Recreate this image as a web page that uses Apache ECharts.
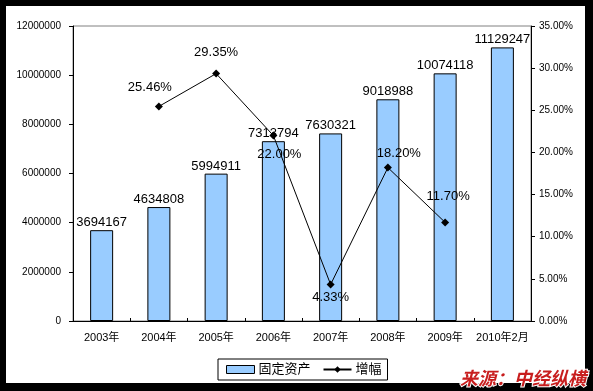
<!DOCTYPE html>
<html>
<head>
<meta charset="utf-8">
<script src="https://cdn.jsdelivr.net/npm/echarts@6/dist/echarts.min.js"></script>
<style>
  html, body { margin: 0; padding: 0; background: #000; }
  #wrap { position: relative; width: 593px; height: 391px; background: #000; }
  #paper { position: absolute; left: 6px; top: 6px; width: 579px; height: 377px; background: #fff; }
  #chart { position: absolute; left: 0; top: 0; width: 593px; height: 391px; }
</style>
</head>
<body>
<div id="wrap">
  <div id="paper"></div>
  <div id="chart"></div>
</div>
<script>
const categories = ['2003年', '2004年', '2005年', '2006年', '2007年', '2008年', '2009年', '2010年2月']
const assetValues = [3694167, 4634808, 5994911, 7313794, 7630321, 9018988, 10074118, 11129247]
const growthValues = ['-', 25.46, 29.35, 22.00, 4.33, 18.20, 11.70, '-']

// label nudges for the growth line, relative to each point
const growthLabelOffsets = [null, [-9, -19], [0, -21], [6, 19], [0, 13], [11, -14], [3, -26], null]

const FONT = "'Liberation Sans', 'Noto Sans CJK SC', sans-serif"

const chart = echarts.init(document.getElementById('chart'), null, { renderer: 'canvas' })

chart.setOption({
    backgroundColor: 'transparent',
    animation: false,
    textStyle: { fontFamily: FONT, color: '#000' },
    grid: {
        left: 73,
        top: 26,
        right: 62,
        bottom: 70,
        show: true,
        borderColor: '#808080',
        borderWidth: 1,
        backgroundColor: 'transparent'
    },
    legend: {
        left: 218,
        top: 359,
        padding: [4, 6, 4, 8],
        itemWidth: 28,
        itemHeight: 8,
        itemGap: 12,
        borderColor: '#000',
        borderWidth: 1,
        borderRadius: 0,
        backgroundColor: '#fff',
        textStyle: { fontSize: 13, fontFamily: FONT, color: '#000', padding: [0, 0, 0, -1] },
        data: [
            { name: '固定资产', icon: 'rect', itemStyle: { borderColor: '#000', borderWidth: 1 } },
            { name: '增幅' }
        ]
    },
    xAxis: {
        type: 'category',
        data: categories,
        axisLine: { lineStyle: { color: '#000', width: 1 } },
        axisTick: { show: true, inside: true, length: 3, lineStyle: { color: '#000' } },
        axisLabel: { fontSize: 11, margin: 11, color: '#000', fontFamily: FONT, interval: 0 },
        splitLine: { show: false }
    },
    yAxis: [
        {
            type: 'value',
            min: 0,
            max: 12000000,
            interval: 2000000,
            axisLine: { show: true, lineStyle: { color: '#000' } },
            axisTick: { show: true, length: 4, lineStyle: { color: '#000' } },
            axisLabel: {
                fontSize: 10, margin: 12, color: '#000', fontFamily: FONT,
                formatter: v => String(v)
            },
            splitLine: { show: false }
        },
        {
            type: 'value',
            min: 0,
            max: 35,
            interval: 5,
            position: 'right',
            axisLine: { show: true, lineStyle: { color: '#000' } },
            axisTick: { show: true, length: 4, lineStyle: { color: '#000' } },
            axisLabel: {
                fontSize: 10, margin: 8, color: '#000', fontFamily: FONT,
                formatter: v => v.toFixed(2) + '%'
            },
            splitLine: { show: false }
        }
    ],
    series: [
        {
            name: '固定资产',
            type: 'bar',
            data: assetValues,
            barWidth: 23,
            itemStyle: { color: '#99CCFF', borderColor: '#000', borderWidth: 1 },
            label: {
                show: true,
                position: 'top',
                distance: 1,
                fontSize: 13,
                color: '#000',
                fontFamily: FONT
            }
        },
        {
            name: '增幅',
            type: 'line',
            yAxisIndex: 1,
            data: growthValues.map((v, i) => ({
                value: v,
                label: growthLabelOffsets[i] ? {
                    show: true,
                    position: 'inside',
                    offset: growthLabelOffsets[i]
                } : { show: false }
            })),
            symbol: 'diamond',
            symbolSize: 8,
            lineStyle: { color: '#000', width: 1 },
            itemStyle: { color: '#000' },
            z: 5,
            label: {
                show: true,
                fontSize: 13,
                color: '#000',
                fontFamily: FONT,
                formatter: p => Number(p.value).toFixed(2) + '%'
            }
        }
    ],
    graphic: [
        {
            type: 'text',
            right: 6,
            bottom: 3,
            z: 100,
            style: {
                text: '来源：中经纵横',
                fontSize: 18,
                fontWeight: 'bold',
                fontStyle: 'italic',
                fontFamily: "'Noto Sans CJK SC', sans-serif",
                fill: '#C81E1E',
                stroke: '#fff',
                lineWidth: 2
            }
        }
    ]
})
</script>
</body>
</html>
